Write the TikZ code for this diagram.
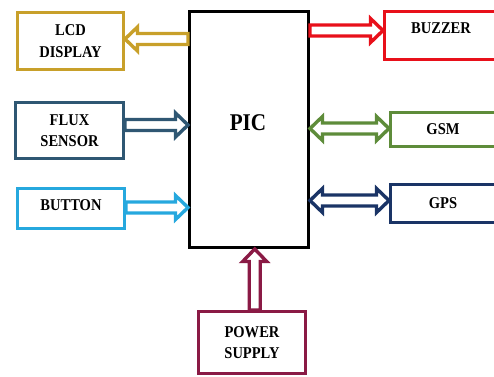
\documentclass[tikz,border=0pt]{standalone}
\usepackage{fontspec}
\newfontfamily\labfont{Liberation Serif}[FakeStretch=0.88]
\usetikzlibrary{calc}
\definecolor{cLCD}{HTML}{C8A02A}
\definecolor{cFlux}{HTML}{2F5773}
\definecolor{cBtn}{HTML}{26A8DE}
\definecolor{cBuz}{HTML}{E8101A}
\definecolor{cGsm}{HTML}{5E8C3A}
\definecolor{cGps}{HTML}{1A3466}
\definecolor{cPow}{HTML}{8A1A45}
\tikzset{
  box/.style={draw, line width=3pt, fill=white, inner sep=0pt, align=center,
    font=\labfont\bfseries\fontsize{16.5}{21.5}\selectfont},
  arrowline/.style={line width=3.4pt, line join=miter}
}
% single hollow arrow: colour, from, to, name
\newcommand\harr[4]{%
  \coordinate (#4b) at ($(#3)!12.5pt!(#2)$);
  \draw[arrowline, #1] ($(#2)!5.5pt!90:(#3)$) -- ($(#4b)!5.5pt!90:(#3)$)
    -- ($(#4b)!12pt!90:(#3)$) -- (#3) -- ($(#4b)!12pt!-90:(#3)$)
    -- ($(#4b)!5.5pt!-90:(#3)$) -- ($(#2)!5.5pt!-90:(#3)$) -- cycle;}
% double hollow arrow: colour, from, to, name
\newcommand\hdarr[4]{%
  \coordinate (#4b) at ($(#3)!12.5pt!(#2)$);
  \coordinate (#4a) at ($(#2)!12.5pt!(#3)$);
  \draw[arrowline, #1] (#2) -- ($(#4a)!12pt!90:(#3)$) -- ($(#4a)!5.5pt!90:(#3)$)
    -- ($(#4b)!5.5pt!90:(#3)$)
    -- ($(#4b)!12pt!90:(#3)$) -- (#3) -- ($(#4b)!12pt!-90:(#3)$)
    -- ($(#4b)!5.5pt!-90:(#3)$) -- ($(#4a)!5.5pt!-90:(#3)$)
    -- ($(#4a)!12pt!-90:(#3)$) -- cycle;}
\begin{document}
\begin{tikzpicture}[x=1pt,y=-1pt]
\useasboundingbox (0,0) rectangle (494,376);
\clip (0,0) rectangle (494,376);
\node[box, draw=cLCD, minimum width=106pt, minimum height=57pt] (lcd) at (70.5,41) {LCD\\DISPLAY};
\node[box, draw=cFlux, minimum width=108pt, minimum height=56pt] (flux) at (69.5,130.5) {FLUX\\SENSOR};
\node[box, draw=cBtn, minimum width=107pt, minimum height=40pt, text depth=7pt] (btn) at (71,208.5) {BUTTON};
\node[box, draw=black, minimum width=119pt, minimum height=236pt] (pic) at (249,129.5) {};
\node[font=\labfont\bfseries\fontsize{24}{28}\selectfont] (pictext) at (248,123) {PIC};
\node[box, draw=cBuz, minimum width=113pt, minimum height=48pt, text depth=14pt] (buz) at (441,35.5) {BUZZER};
\node[box, draw=cGsm, minimum width=105pt, minimum height=34pt] (gsm) at (443,129.5) {GSM};
\node[box, draw=cGps, minimum width=105pt, minimum height=38pt] (gps) at (443,203.5) {GPS};
\node[box, draw=cPow, minimum width=107pt, minimum height=62pt] (pow) at (252,342.5) {POWER\\SUPPLY};
\coordinate (lcdS) at ([yshift=2pt]pic.west |- lcd.east);
\coordinate (lcdE) at ([yshift=2pt]lcd.east);
\coordinate (fluxS) at ([yshift=5.5pt]flux.east);
\coordinate (fluxE) at ([yshift=5.5pt]flux.east -| pic.west);
\coordinate (btnS) at ([yshift=1pt]btn.east);
\coordinate (btnE) at ([yshift=1pt]btn.east -| pic.west);
\coordinate (buzS) at ([yshift=5pt]pic.east |- buz.west);
\coordinate (buzE) at ([yshift=5pt]buz.west);
\coordinate (gsmS) at ([yshift=1pt]pic.east |- gsm.west);
\coordinate (gsmE) at ([yshift=1pt]gsm.west);
\coordinate (gpsS) at ([yshift=3pt]pic.east |- gps.west);
\coordinate (gpsE) at ([yshift=3pt]gps.west);
\coordinate (powS) at ([xshift=2.7pt]pow.north);
\coordinate (powE) at ([xshift=2.7pt]pow.north |- pic.south);
\harr{cLCD}{lcdS}{lcdE}{lcdh}
\harr{cFlux}{fluxS}{fluxE}{fluxh}
\harr{cBtn}{btnS}{btnE}{btnh}
\harr{cBuz}{buzS}{buzE}{buzh}
\hdarr{cGsm}{gsmS}{gsmE}{gsmh}
\hdarr{cGps}{gpsS}{gpsE}{gpsh}
\harr{cPow}{powS}{powE}{powh}
\end{tikzpicture}
\end{document}
